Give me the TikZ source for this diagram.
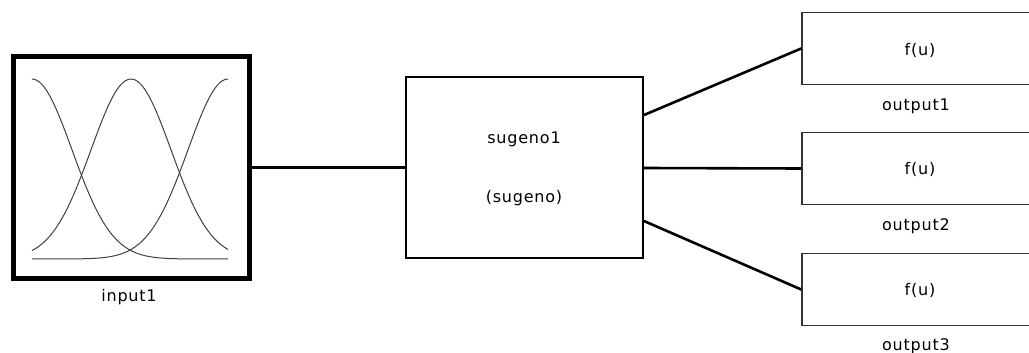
\documentclass[tikz,border=0pt]{standalone}
\usepackage{fontspec}
\setmainfont[LetterSpace=5]{DejaVu Sans}
\begin{document}
\begin{tikzpicture}[x=1pt,y=-1pt,
  lbl/.style={inner sep=0pt,font=\fontsize{16}{18}\selectfont},
  blk/.style={draw=black,line width=2pt,inner sep=0pt},
  outblk/.style={draw=black!80,line width=1.6pt,inner sep=0pt},
  wire/.style={draw=black,line width=2.6pt},
  mf/.style={draw=black!75,line width=1pt,smooth,samples=60}]
\useasboundingbox (0,0) rectangle (1029,353);
\clip (0,0) rectangle (1029,353);
% input block
\node[draw=black,line width=5pt,minimum width=236pt,minimum height=221pt,inner sep=0pt] (in) at (131,167.5) {};
\draw[mf,domain=32:228] plot (\x,{259-180*exp(-0.5*((\x-32)/40)^2)});
\draw[mf,domain=32:228] plot (\x,{259-180*exp(-0.5*((\x-131)/40)^2)});
\draw[mf,domain=32:228] plot (\x,{259-180*exp(-0.5*((\x-228)/40)^2)});
\node[lbl] (inlbl) at (129,297) {input1};
% sugeno block
\node[blk,minimum width=237pt,minimum height=181pt] (sug) at (524.5,167.5) {};
\node[lbl] (t1) at (524,139) {sugeno1};
\node[lbl] (t2) at (524,198) {(sugeno)};
% outputs
\node[outblk,minimum width=236pt,minimum height=72pt] (o1) at (920,48.5) {};
\node[outblk,minimum width=236pt,minimum height=72pt] (o2) at (920,168.5) {};
\node[outblk,minimum width=236pt,minimum height=72pt] (o3) at (920,289.5) {};
\node[lbl] (f1) at (920,50) {f(u)};
\node[lbl] (f2) at (920,169) {f(u)};
\node[lbl] (f3) at (920,290) {f(u)};
\node[lbl] (l1) at (916,106) {output1};
\node[lbl] (l2) at (916,226) {output2};
\node[lbl] (l3) at (916,346) {output3};
% ports
\coordinate (p1) at (sug.east |- 0,115);
\coordinate (p2) at (sug.east |- 0,168);
\coordinate (p3) at (sug.east |- 0,221);
% wires
\draw[wire] (in.east |- 0,167.5) -- (sug.west |- 0,167.5);
\draw[wire] (p1) -- (o1.west);
\draw[wire] (p2) -- (o2.west);
\draw[wire] (p3) -- (o3.west);
\end{tikzpicture}
\end{document}
